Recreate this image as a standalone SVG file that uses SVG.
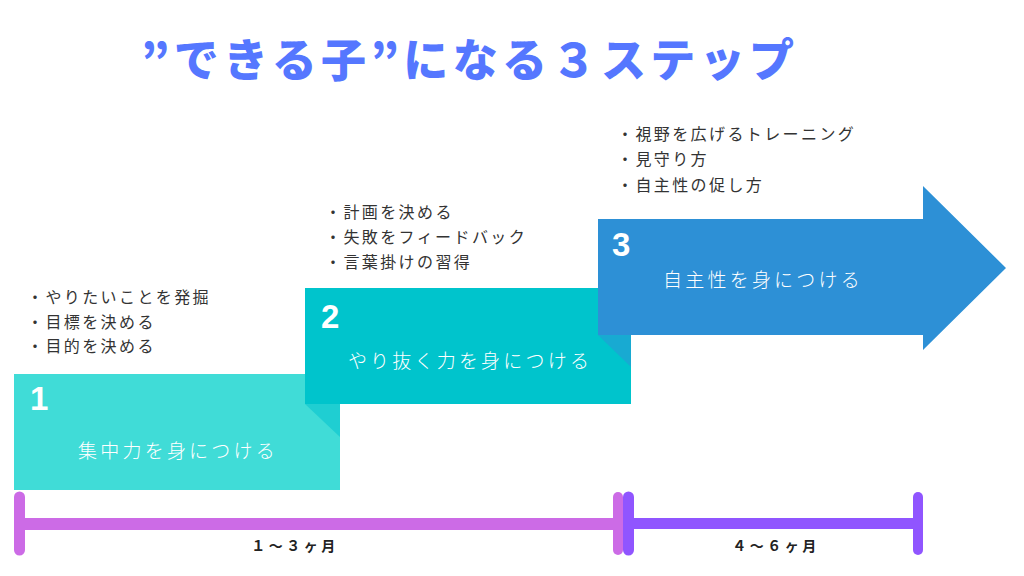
<svg xmlns="http://www.w3.org/2000/svg" width="1024" height="576" viewBox="0 0 1024 576">
<style>
.title{font-family:"Noto Sans CJK JP","Noto Sans",sans-serif;font-weight:900;font-size:45px;fill:#5577FF;letter-spacing:4.4px}
.num{font-family:"Liberation Sans","Noto Sans",sans-serif;font-weight:bold;font-size:33px;fill:#FFFFFF}
.lbl{font-family:"Noto Sans CJK JP",sans-serif;font-weight:300;font-size:19px;fill:#FFFFFF;letter-spacing:3.2px}
.bul{font-family:"Noto Sans CJK JP",sans-serif;font-weight:400;font-size:16px;fill:#333333;letter-spacing:2.4px}
.per{font-family:"Noto Sans CJK JP",sans-serif;font-weight:700;font-size:14px;fill:#222222;letter-spacing:3.5px}
</style>
<rect width="1024" height="576" fill="#FFFFFF"/>
<text class="title" x="141" y="77">”できる子”になる３ステップ</text>

<g id="step1">
<rect x="14" y="374" width="326" height="116" fill="#40DCD7"/>
<text class="num" x="30" y="410">1</text>
<text class="lbl" x="178" y="458" text-anchor="middle">集中力を身につける</text>
<text class="bul" x="27" y="303">・やりたいことを発掘</text>
<text class="bul" x="27" y="328">・目標を決める</text>
<text class="bul" x="27" y="352">・目的を決める</text>
</g>
<polygon points="305,404 340,404 340,437" fill="#1FCED2"/>

<g id="step2">
<rect x="305" y="288" width="326" height="116" fill="#00C4CC"/>
<text class="num" x="321" y="328">2</text>
<text class="lbl" x="470" y="368" text-anchor="middle">やり抜く力を身につける</text>
<text class="bul" x="325" y="218">・計画を決める</text>
<text class="bul" x="325" y="243">・失敗をフィードバック</text>
<text class="bul" x="325" y="268">・言葉掛けの習得</text>
</g>
<polygon points="598,335 631,335 631,367" fill="#18AAD2"/>

<g id="step3">
<polygon points="598,219 923,219 923,186 1006,268 923,350 923,335 598,335" fill="#2D90D6"/>
<text class="num" x="612" y="256">3</text>
<text class="lbl" x="763" y="287" text-anchor="middle">自主性を身につける</text>
<text class="bul" x="617" y="140">・視野を広げるトレーニング</text>
<text class="bul" x="617" y="165">・見守り方</text>
<text class="bul" x="617" y="191">・自主性の促し方</text>
</g>

<g id="connectors" stroke-linecap="round">
<g id="period1" stroke="#CC6BE6">
<line x1="19.5" y1="524" x2="618" y2="524" stroke-width="12" stroke-linecap="butt"/>
<line x1="19.5" y1="497" x2="19.5" y2="550" stroke-width="11"/>
<line x1="618" y1="497" x2="618" y2="550" stroke-width="10"/>
</g>
<g id="period2" stroke="#9055FF">
<line x1="628" y1="523.5" x2="918" y2="523.5" stroke-width="11" stroke-linecap="butt"/>
<line x1="628.5" y1="497" x2="628.5" y2="550" stroke-width="11"/>
<line x1="918" y1="497" x2="918" y2="550" stroke-width="10"/>
</g>
</g>
<text class="per" x="295" y="551" text-anchor="middle">１〜３ヶ月</text>
<text class="per" x="776" y="551" text-anchor="middle">４〜６ヶ月</text>
</svg>
